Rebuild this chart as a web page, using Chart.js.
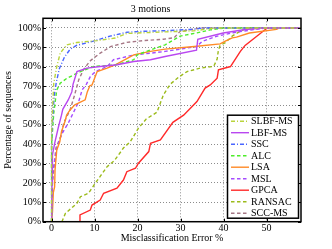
<!DOCTYPE html>
<html>
<head>
<meta charset="utf-8">
<script src="https://cdn.jsdelivr.net/npm/chart.js@4.4.1/dist/chart.umd.min.js"></script>
<style>
  html, body { margin: 0; padding: 0; background: #fff; }
  #wrap { width: 332px; height: 249px; }
</style>
</head>
<body>
<div id="wrap"><canvas id="c" width="332" height="249"></canvas></div>
<script>
const titleText = '3 motions';
const xTitle = 'Misclassification Error %';
const yTitle = 'Percentage of sequences';
const xTicks = [0, 10, 20, 30, 40, 50];
const yTicks = [0, 10, 20, 30, 40, 50, 60, 70, 80, 90, 100];
const seriesNames = ['SLBF-MS', 'LBF-MS', 'SSC', 'ALC', 'LSA', 'MSL', 'GPCA', 'RANSAC', 'SCC-MS'];

const slbfX = [0, 0, 0.3, 0.5, 1.2, 2, 2.7, 3.6, 5.9, 10.6, 14.8, 17.5, 26.4, 33, 38, 58];
const slbfY = [0, 45, 62, 71.5, 80, 87, 89, 91.3, 92.5, 93.5, 94.8, 97.2, 98, 98.5, 100, 100];

const lbfX = [0, 0.1, 0.2, 0.8, 1.6, 2.3, 2.6, 3.9, 4.7, 5, 5.9, 8.2, 11.3, 15.2, 19.1, 23, 26.4, 33.7, 34, 39.9, 45, 49.5, 58];
const lbfY = [0, 20, 34.5, 41.3, 49, 55, 58, 63, 67, 71, 77.5, 79.3, 80.1, 81, 82.7, 83.6, 85.3, 88.5, 94.2, 97.4, 99.2, 100, 100];

const sscX = [0, 0, 0.3, 0.6, 1.1, 1.8, 3, 4.3, 5.8, 9.7, 13.6, 17.5, 21.4, 26.4, 32.9, 35, 58];
const sscY = [0, 40, 55, 65, 72, 79, 85, 89, 91, 93.2, 95.8, 97.8, 98.3, 98.6, 99.3, 100, 100];

const alcX = [0, 0, 0.5, 0.9, 1.2, 2, 3.6, 6.7, 9.8, 15, 19.1, 19.9, 23, 26.4, 29.9, 33.8, 36.9, 40.2, 58];
const alcY = [0, 40, 56, 63, 68, 71.5, 74.1, 77.5, 80.1, 81, 83.6, 86.1, 88.7, 91.3, 95.8, 97.5, 99, 100, 100];

const lsaX = [0, 0.2, 0.4, 0.7, 0.8, 1.2, 1.9, 2.3, 3.1, 3.5, 4.3, 5.4, 7.8, 8.3, 8.9, 9.4, 10.6, 12.9, 14.8, 19.1, 23, 26.4, 33.8, 39.2, 40.4, 42, 43, 46, 52.3, 53, 58];
const lsaY = [0, 5, 15, 18, 26.7, 37, 41.3, 46.5, 51.7, 55.1, 57.7, 60.3, 62.9, 67, 70.2, 70.6, 77.5, 79.3, 81, 86.1, 87.9, 89.1, 90.6, 91.8, 93.2, 94.9, 95.3, 97.4, 99.3, 100, 100];

const mslX = [0, 0.2, 1.2, 2.3, 3.9, 5, 6.3, 7.1, 8.1, 9, 10.2, 12.9, 14.4, 19.1, 23, 26.4, 33.7, 35, 38, 42, 48, 50, 58];
const mslY = [0, 25, 38, 45, 51, 56, 62, 68, 71, 74.9, 77.5, 80.1, 83.6, 86.1, 87, 87.9, 90.4, 93, 95.5, 97.5, 99.5, 100, 100];

const gpcaX = [6.5, 6.6, 9, 9.4, 11.3, 12.1, 15.2, 16.7, 17.5, 19.5, 20.2, 22.6, 23, 25.3, 28.2, 30.7, 33.8, 35.7, 36.9, 38.5, 38.8, 41.6, 43.9, 45, 49.7, 50.2, 58];
const gpcaY = [0, 3.5, 6, 8.6, 11.2, 14.7, 17.3, 21.5, 25.8, 27.6, 30.2, 36.2, 40.5, 42.2, 51.3, 55, 62, 69, 70.6, 74.1, 78.4, 80.1, 87.9, 91, 99.2, 100, 100];

const ransacX = [2.4, 3.2, 5.9, 6.7, 8.6, 10.2, 11.5, 12.9, 14.6, 16.7, 18.3, 20.2, 22, 24.5, 26, 27.6, 29.5, 31.5, 34.6, 37.7, 38.5, 38.8, 39.2, 40.4, 42, 43.9, 45.7, 58];
const ransacY = [0, 4.3, 9.5, 12.9, 14.7, 20, 24, 28.4, 31.5, 38, 41.3, 48.3, 53, 56.5, 65.5, 71, 74.5, 77.5, 79.3, 80.2, 84, 88.7, 91, 92.4, 95.8, 98.4, 100, 100];

const sccX = [0, 0.2, 1, 2.3, 2.8, 4.3, 5.3, 6.3, 7.4, 8.9, 9.8, 11.3, 13.7, 17.5, 21.4, 26, 28.5, 29.9, 33.8, 35, 58];
const sccY = [0, 20, 38, 45, 50.9, 57.7, 65, 73.2, 78.4, 82.9, 84.5, 87, 90.4, 92.6, 93.5, 94.2, 95, 98.3, 99.7, 100, 100];

function pts(xs, ys) { return xs.map((x, i) => ({ x: x, y: ys[i] })); }

const styles = [
  { c: '#b9d43c', d: [4, 2, 1, 2] },
  { c: '#b947f0', d: [] },
  { c: '#4a66ff', d: [4, 2, 1, 2] },
  { c: '#4ded2a', d: [3.5, 2.5] },
  { c: '#ff8a26', d: [] },
  { c: '#a54cff', d: [3.5, 2.5] },
  { c: '#ff2a2a', d: [] },
  { c: '#9cbb1c', d: [3.5, 2.5] },
  { c: '#a67886', d: [3.5, 2.5] }
];
const allX = [slbfX, lbfX, sscX, alcX, lsaX, mslX, gpcaX, ransacX, sccX];
const allY = [slbfY, lbfY, sscY, alcY, lsaY, mslY, gpcaY, ransacY, sccY];

const datasets = seriesNames.map((n, i) => ({
  label: n,
  data: pts(allX[i], allY[i]),
  borderColor: styles[i].c,
  backgroundColor: styles[i].c,
  borderDash: styles[i].d,
  borderWidth: 1.4,
  pointRadius: 0,
  tension: 0,
  fill: false
}));

const FONT = 'Liberation Serif';

const framePlugin = {
  id: 'frame',
  afterDatasetsDraw(chart) {
    const ctx = chart.ctx;
    const a = chart.chartArea;
    const xs = chart.scales.x, ys = chart.scales.y;
    ctx.save();
    ctx.strokeStyle = '#000';
    ctx.lineWidth = 1;
    ctx.setLineDash([]);
    // inward ticks
    ctx.beginPath();
    xTicks.forEach(v => {
      const px = Math.round(xs.getPixelForValue(v)) + 0.5;
      ctx.moveTo(px, a.bottom); ctx.lineTo(px, a.bottom - 3);
      ctx.moveTo(px, a.top); ctx.lineTo(px, a.top + 3);
    });
    yTicks.forEach(v => {
      const py = Math.round(ys.getPixelForValue(v)) + 0.5;
      ctx.moveTo(a.left, py); ctx.lineTo(a.left + 3, py);
      ctx.moveTo(a.right, py); ctx.lineTo(a.right - 3, py);
    });
    ctx.stroke();
    ctx.lineWidth = 1.5;
    ctx.strokeRect(a.left, a.top, a.right - a.left, a.bottom - a.top);

    // legend
    const w = 71, h = 103;
    const L = a.right - 2.5 - w, T = a.bottom - 3.5 - h;
    ctx.fillStyle = '#fff';
    ctx.fillRect(L, T, w, h);
    ctx.lineWidth = 1.5;
    ctx.strokeStyle = '#000';
    ctx.strokeRect(L, T, w, h);
    ctx.font = '10px "' + FONT + '"';
    ctx.textBaseline = 'middle';
    ctx.textAlign = 'left';
    chart.data.datasets.forEach((ds, i) => {
      const y = T + 6 + i * 11.5;
      ctx.beginPath();
      ctx.strokeStyle = ds.borderColor;
      ctx.lineWidth = 1.4;
      ctx.setLineDash(ds.borderDash || []);
      ctx.moveTo(L + 3.5, y); ctx.lineTo(L + 21.5, y);
      ctx.stroke();
      ctx.setLineDash([]);
      ctx.fillStyle = '#000';
      ctx.fillText(ds.label, L + 23.5, y + 0.5);
    });
    ctx.restore();
  }
};

new Chart(document.getElementById('c'), {
  type: 'line',
  data: { datasets: datasets },
  options: {
    responsive: false,
    animation: false,
    devicePixelRatio: 1,
    layout: { padding: { left: 0, right: 31, top: 0, bottom: 0 } },
    plugins: {
      legend: { display: false },
      tooltip: { enabled: false },
      title: {
        display: true,
        text: titleText,
        color: '#000',
        font: { family: FONT, size: 10, weight: 'normal' },
        padding: { top: 3, bottom: 3.3 }
      }
    },
    scales: {
      x: {
        type: 'linear',
        min: -2,
        max: 58,
        afterBuildTicks: s => { s.ticks = xTicks.map(v => ({ value: v })); },
        afterFit: s => { s.height = 27.3; },
        ticks: {
          color: '#000',
          font: { family: FONT, size: 10 },
          padding: 1,
          maxRotation: 0,
          autoSkip: false
        },
        grid: { color: 'rgba(0,0,0,0.45)', lineWidth: 1, drawTicks: false },
        border: { display: false, dash: [1, 2] },
        title: {
          display: true,
          text: xTitle,
          color: '#000',
          font: { family: FONT, size: 10 },
          padding: { top: 0, bottom: 5 }
        }
      },
      y: {
        type: 'linear',
        min: 0,
        max: 105,
        afterBuildTicks: s => { s.ticks = yTicks.map(v => ({ value: v })); },
        afterFit: s => { s.width = 43; },
        ticks: {
          color: '#000',
          font: { family: FONT, size: 10 },
          padding: 2,
          autoSkip: false,
          callback: v => v + '%'
        },
        grid: { color: 'rgba(0,0,0,0.45)', lineWidth: 1, drawTicks: false },
        border: { display: false, dash: [1, 2] },
        title: {
          display: true,
          text: yTitle,
          color: '#000',
          font: { family: FONT, size: 10 },
          padding: { top: 2.5, bottom: 0 }
        }
      }
    }
  },
  plugins: [framePlugin]
});
</script>
</body>
</html>
